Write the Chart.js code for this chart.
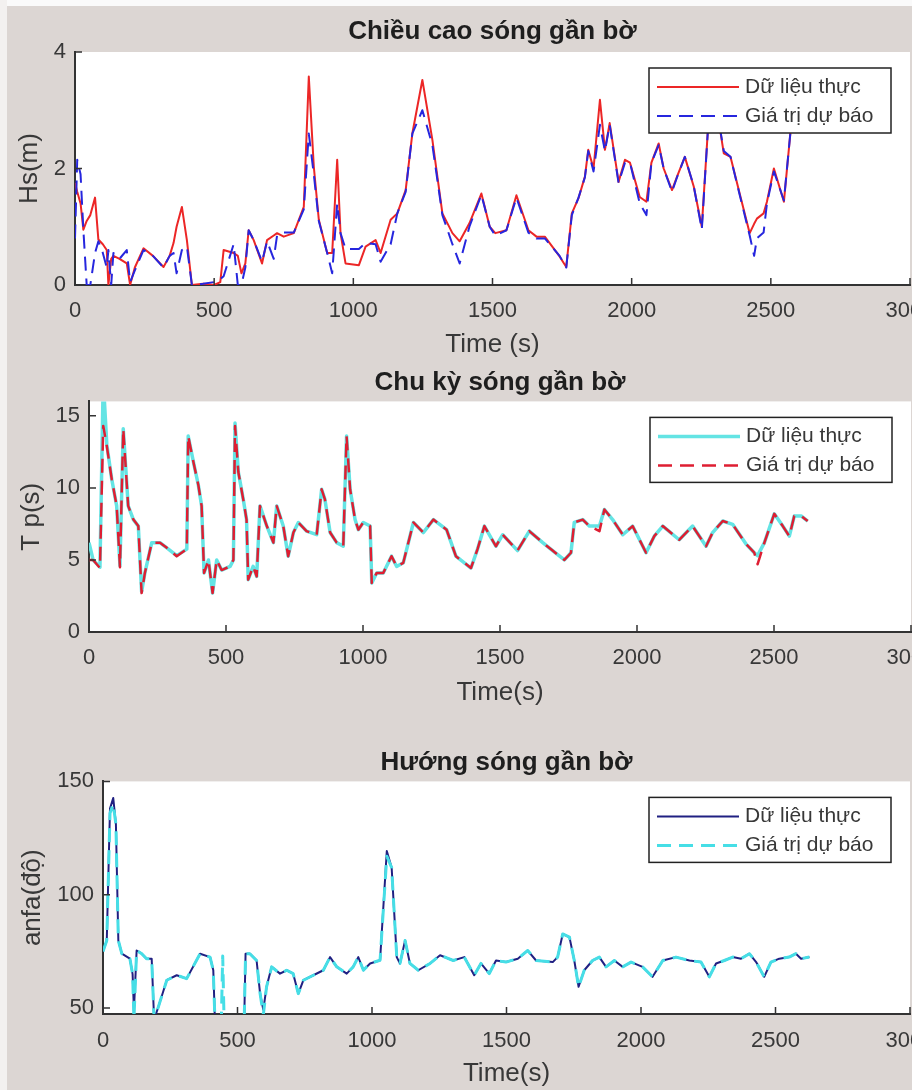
<!DOCTYPE html>
<html>
<head>
<meta charset="utf-8">
<script src="https://cdn.jsdelivr.net/npm/chart.js@4.4.0/dist/chart.umd.min.js"></script>
<style>
  html, body { margin: 0; padding: 0; background: #dcd6d3; overflow: hidden; width: 912px; height: 1090px; }
  .panel { position: absolute; left: 0; }
  .panel canvas { display: block; }
  .edge { position: absolute; background: #f3f1f0; }
</style>
</head>
<body>
<div class="panel" style="top:0"><canvas id="hsChart" width="1000" height="370"></canvas></div>
<div class="panel" style="top:365px"><canvas id="tpChart" width="1000" height="345"></canvas></div>
<div class="panel" style="top:740px"><canvas id="dirChart" width="1000" height="350"></canvas></div>
<div class="edge" style="left:0;top:0;width:912px;height:6px;background:#fafafa"></div>
<div class="edge" style="left:0;top:0;width:7px;height:1090px"></div>
<script>
// Trục thời gian chung
const timeTicks = [0, 500, 1000, 1500, 2000, 2500, 3000];

// Chiều cao sóng (Hs)
const hsTicks = [0, 2, 4];
const hsTime = [
  0, 8, 20, 30, 42, 55, 72, 84, 100, 114,
  120, 130, 138, 160, 186, 198, 215, 246, 280, 318,
  340, 354, 365, 384, 402, 420, 460, 500, 522, 534,
  570, 585, 598, 612, 624, 642, 672, 690, 714, 726,
  750, 786, 822, 840, 858, 876, 906, 924, 942, 954,
  972, 1020, 1044, 1080, 1098, 1134, 1158, 1188, 1212, 1248,
  1284, 1320, 1356, 1382, 1417, 1460, 1490, 1510, 1550, 1586,
  1629, 1658, 1688, 1741, 1765, 1785, 1809, 1832, 1844, 1863,
  1886, 1904, 1921, 1953, 1976, 1994, 2029, 2053, 2071, 2097,
  2115, 2145, 2163, 2191, 2223, 2252, 2277, 2310, 2331, 2355,
  2388, 2424, 2440, 2450, 2474, 2486, 2511, 2547, 2570, 2600,
  2620
];
const hsReal = [
  1.75, 1.6, 1.4, 0.95, 1.1, 1.2, 1.5, 0.78, 0.7, 0.6,
  0.0, 0.45, 0.5, 0.45, 0.37, 0.0, 0.3, 0.63, 0.5, 0.31,
  0.5, 0.72, 1.0, 1.34, 0.77, 0.0, 0.02, 0.0, 0.05, 0.6,
  0.55, 0.5, 0.2, 0.37, 0.94, 0.77, 0.37, 0.77, 0.85, 0.89,
  0.83, 0.89, 1.34, 3.58, 2.03, 1.12, 0.55, 0.55, 2.15, 0.89,
  0.37, 0.34, 0.66, 0.77, 0.55, 1.12, 1.23, 1.63, 2.6, 3.52,
  2.49, 1.23, 0.89, 0.75, 1.06, 1.57, 1.0, 0.89, 0.94, 1.54,
  0.94, 0.83, 0.83, 0.49, 0.31, 1.23, 1.49, 1.86, 2.32, 2.0,
  3.18, 2.32, 2.78, 1.77, 2.15, 2.1, 1.51, 1.43, 2.1, 2.43,
  2.0, 1.63, 1.86, 2.2, 1.69, 1.0, 2.9, 2.9, 2.26, 2.2,
  1.57, 0.89, 1.05, 1.14, 1.23, 1.43, 2.0, 1.43, 2.6, 3.1,
  3.0
];
const hsPred = [
  0.8, 2.15, 1.9, 0.95, 0.0, 0.0, 0.55, 0.75, 0.55, 0.3,
  0.6, 0.0, 0.55, 0.45, 0.6, 0.05, 0.25, 0.6, 0.5, 0.3,
  0.5, 0.55, 0.2, 0.6, 0.66, 0.0, 0.02, 0.05, 0.1, 0.15,
  0.7, 0.0, 0.0, 0.3, 0.94, 0.77, 0.4, 0.75, 0.45, 0.85,
  0.9, 0.9, 1.3, 2.6, 1.9, 1.1, 0.55, 0.2, 1.4, 0.89,
  0.62, 0.62, 0.72, 0.7, 0.4, 0.7, 1.23, 1.6, 2.6, 3.0,
  2.4, 1.2, 0.7, 0.37, 1.0, 1.55, 1.0, 0.85, 0.94, 1.5,
  0.9, 0.8, 0.8, 0.5, 0.3, 1.2, 1.5, 1.85, 2.3, 1.95,
  2.75, 2.3, 2.75, 1.75, 2.1, 2.1, 1.4, 1.2, 2.1, 2.4,
  2.0, 1.6, 1.85, 2.2, 1.7, 0.95, 2.9, 2.9, 2.3, 2.2,
  1.55, 0.85, 0.5, 0.8, 0.9, 1.4, 1.95, 1.45, 2.6, 3.1,
  3.0
];

// Chu kỳ sóng (Tp)
const tpTicks = [0, 5, 10, 15];
const tpTime = [
  0, 15, 40, 52, 65, 83, 101, 113, 125, 143,
  162, 180, 192, 204, 229, 259, 284, 320, 357, 362,
  381, 399, 411, 420, 436, 451, 466, 484, 515, 527,
  533, 545, 563, 575, 581, 599, 612, 624, 649, 673,
  685, 709, 727, 746, 764, 794, 831, 849, 861, 880,
  904, 928, 940, 953, 971, 983, 1001, 1026, 1032, 1050,
  1074, 1104, 1123, 1147, 1184, 1220, 1257, 1305, 1339, 1394,
  1418, 1443, 1485, 1510, 1564, 1607, 1656, 1692, 1735, 1759,
  1771, 1802, 1826, 1863, 1881, 1911, 1948, 1984, 2033, 2063,
  2094, 2154, 2203, 2252, 2276, 2313, 2349, 2398, 2428, 2440,
  2465, 2501, 2532, 2556, 2574, 2599, 2623
];
const tpReal = [
  6.2, 5.0, 4.5, 17.5, 13.0, 10.6, 8.75, 4.6, 14.1, 8.75,
  7.8, 7.35, 2.8, 4.1, 6.2, 6.2, 5.84, 5.3, 5.75, 13.6,
  11.8, 10.2, 8.75, 4.1, 5.0, 2.7, 5.0, 4.3, 4.55, 5.0,
  14.5, 11.1, 9.2, 7.8, 3.63, 4.55, 3.86, 8.75, 7.35, 6.2,
  8.75, 7.35, 5.26, 6.9, 7.6, 7.0, 6.75, 9.9, 9.2, 6.9,
  6.2, 5.95, 13.6, 9.9, 7.8, 7.1, 7.6, 7.35, 3.4, 4.1,
  4.1, 5.26, 4.55, 4.8, 7.6, 6.9, 7.8, 7.1, 5.26, 4.44,
  5.75, 7.35, 5.95, 6.75, 5.65, 7.0, 6.2, 5.65, 5.0, 5.5,
  7.6, 7.8, 7.35, 7.35, 8.5, 7.8, 6.75, 7.35, 5.5, 6.65,
  7.35, 6.4, 7.35, 5.95, 6.9, 7.7, 7.47, 6.1, 5.5, 5.3,
  6.2, 8.2, 7.35, 6.65, 8.05, 8.05, 7.7
];
const tpPred = [
  5.0, 5.0, 4.44, 14.3, 12.9, 10.6, 8.75, 4.5, 14.1, 8.75,
  7.8, 7.35, 2.7, 4.1, 6.2, 6.2, 5.84, 5.26, 5.75, 13.6,
  11.8, 10.2, 8.75, 4.1, 5.0, 2.7, 5.0, 4.3, 4.55, 5.0,
  14.3, 11.1, 9.2, 7.8, 3.63, 4.55, 3.86, 8.75, 7.35, 6.2,
  8.75, 7.35, 5.26, 6.9, 7.6, 7.0, 6.75, 9.9, 9.2, 6.9,
  6.2, 5.95, 13.6, 9.9, 7.8, 7.1, 7.6, 7.35, 3.4, 4.1,
  4.1, 5.26, 4.55, 4.8, 7.6, 6.9, 7.8, 7.1, 5.26, 4.44,
  5.75, 7.35, 5.95, 6.75, 5.65, 7.0, 6.2, 5.65, 5.0, 5.5,
  7.6, 7.8, 7.35, 7.0, 8.5, 7.8, 6.75, 7.35, 5.5, 6.65,
  7.35, 6.4, 7.35, 5.95, 6.9, 7.7, 7.47, 6.1, 5.5, 4.7,
  6.2, 8.2, 7.35, 6.65, 8.05, 8.05, 7.7
];

// Hướng sóng (anfa)
const dirTicks = [50, 100, 150];
const dirTime = [
  0, 14, 26, 38, 48, 57, 70, 100, 110, 115,
  125, 144, 162, 181, 190, 206, 237, 274, 311, 361,
  398, 410, 416, 440, 445, 450, 497, 525, 530, 546,
  571, 584, 596, 608, 627, 658, 683, 707, 726, 745,
  782, 819, 844, 869, 906, 930, 949, 968, 993, 1030,
  1055, 1073, 1092, 1104, 1123, 1141, 1172, 1216, 1253, 1302,
  1343, 1380, 1405, 1436, 1461, 1498, 1542, 1579, 1610, 1672,
  1690, 1709, 1734, 1752, 1768, 1789, 1820, 1845, 1870, 1901,
  1932, 1963, 2006, 2043, 2081, 2130, 2180, 2223, 2254, 2279,
  2310, 2341, 2372, 2403, 2428, 2458, 2483, 2514, 2551, 2576,
  2595, 2626
];
const dirReal = [
  75, 79.8, 138, 142.7, 131, 79.8, 74, 71.8, 65, 49,
  75.4, 74, 71.8, 71.8, 45, 50.6, 62.3, 64.5, 63, 74,
  72.5, 66.7, 45, 45, 45, 45, 45, 45, 74, 74,
  71, 56.4, 49.2, 59.4, 68.2, 65.2, 66.7, 65.2, 56.4, 62.3,
  64.5, 66.7, 72.5, 68.2, 65.2, 68.2, 72.5, 66.7, 69.7, 71.1,
  119.3, 112, 72.5, 69.7, 79.8, 69.7, 66.7, 69.7, 73.3, 71,
  72.5, 64.5, 69.7, 65.2, 71, 70.3, 71.8, 75.4, 71, 70.3,
  72.5, 82.7, 81.3, 71, 59.4, 66.7, 71, 72.5, 68.2, 71,
  68.2, 70.3, 68.2, 63.8, 71, 72.5, 71, 70.3, 63.8, 69.7,
  71, 72.5, 71.8, 74, 70.3, 63.8, 70.3, 71.8, 72.5, 74,
  71.8, 72.5
];
const dirPred = [
  75, 79.8, 136, 140, 131, 79.8, 74, 71.8, 65, 45,
  75.4, 74, 71.8, 71.8, 45, 50.6, 62.3, 64.5, 63, 74,
  72.5, 66.7, 45, 45, 73, 45, 45, 45, 74, 74,
  71, 56.4, 47, 59.4, 68.2, 65.2, 66.7, 65.2, 56.4, 62.3,
  64.5, 66.7, 72.5, 68.2, 65.2, 68.2, 72.5, 66.7, 69.7, 71.1,
  117, 112, 72.5, 69.7, 79.8, 69.7, 66.7, 69.7, 73.3, 71,
  72.5, 64.5, 69.7, 65.2, 71, 70.3, 71.8, 75.4, 71, 70.3,
  72.5, 82.7, 81.3, 71, 59.4, 66.7, 71, 72.5, 68.2, 71,
  68.2, 70.3, 68.2, 63.8, 71, 72.5, 71, 70.3, 63.8, 69.7,
  71, 72.5, 71.8, 74, 70.3, 63.8, 70.3, 71.8, 72.5, 74,
  71.8, 72.5
];

const realLabel = 'Dữ liệu thực';
const predLabel = 'Giá trị dự báo';

const FONT = '"Liberation Sans", Arial, Helvetica, sans-serif';
const TEXT = '#383838';
Chart.defaults.font.family = FONT;
Chart.defaults.color = TEXT;

// Nền trắng cho vùng vẽ
const plotBg = {
  id: 'plotBg',
  beforeDraw(chart) {
    const { ctx, chartArea: a } = chart;
    ctx.save();
    ctx.fillStyle = '#ffffff';
    ctx.fillRect(a.left, a.top, a.right - a.left, a.bottom - a.top);
    ctx.restore();
  }
};

// Vạch chia hướng vào trong (kiểu MATLAB)
const insideTicks = {
  id: 'insideTicks',
  afterDatasetsDraw(chart) {
    const { ctx, chartArea: a, scales: { x, y } } = chart;
    ctx.save();
    ctx.strokeStyle = '#333';
    ctx.lineWidth = 1.5;
    ctx.beginPath();
    x.ticks.forEach(t => {
      const px = x.getPixelForValue(t.value);
      ctx.moveTo(px, a.bottom);
      ctx.lineTo(px, a.bottom - 7);
    });
    y.ticks.forEach(t => {
      const py = y.getPixelForValue(t.value);
      ctx.moveTo(a.left, py);
      ctx.lineTo(a.left + 7, py);
    });
    ctx.stroke();
    ctx.restore();
  }
};

// Chú thích có khung, nằm trong vùng vẽ
const boxLegend = {
  id: 'boxLegend',
  afterDatasetsDraw(chart, args, opts) {
    const { ctx, chartArea: a } = chart;
    const left = a.right - opts.right - opts.width;
    const top = a.top + opts.top;
    ctx.save();
    ctx.fillStyle = '#fff';
    ctx.fillRect(left, top, opts.width, opts.height);
    ctx.strokeStyle = '#222';
    ctx.lineWidth = 1.5;
    ctx.strokeRect(left, top, opts.width, opts.height);
    ctx.font = '21px ' + FONT;
    ctx.textBaseline = 'middle';
    chart.data.datasets.forEach((ds, i) => {
      const cy = top + opts.rows[i];
      ctx.strokeStyle = ds.borderColor;
      ctx.lineWidth = ds.borderWidth;
      ctx.setLineDash(ds.borderDash || []);
      ctx.beginPath();
      ctx.moveTo(left + 8, cy);
      ctx.lineTo(left + 90, cy);
      ctx.stroke();
      ctx.setLineDash([]);
      ctx.fillStyle = TEXT;
      ctx.fillText(ds.label, left + 96, cy);
    });
    ctx.restore();
  }
};

function points(xs, ys) {
  return xs.map((t, i) => ({ x: t, y: ys[i] }));
}

function makeChart(id, p) {
  return new Chart(document.getElementById(id), {
    type: 'line',
    data: {
      datasets: [
        {
          label: realLabel,
          data: points(p.time, p.real),
          borderColor: p.realColor,
          borderWidth: p.realWidth,
          pointRadius: 0,
          tension: 0,
          borderJoinStyle: 'round',
          order: 1
        },
        {
          label: predLabel,
          data: points(p.time, p.pred),
          borderColor: p.predColor,
          borderWidth: p.predWidth,
          borderDash: [14, 8],
          pointRadius: 0,
          tension: 0,
          borderJoinStyle: 'round',
          order: 0
        }
      ]
    },
    options: {
      responsive: false,
      animation: false,
      events: [],
      layout: { padding: { left: 0, right: p.right, top: 0, bottom: 0 } },
      plugins: {
        legend: { display: false },
        tooltip: { enabled: false },
        title: {
          display: true,
          text: p.title,
          fullSize: false,
          color: '#1e1e1e',
          font: { size: 26, weight: 'bold', lineHeight: 1.2 },
          padding: { top: p.titleTop, bottom: p.titleBottom }
        },
        boxLegend: { right: 19, top: 16, width: 242, height: 65, rows: [19, 48] }
      },
      scales: {
        x: {
          type: 'linear',
          min: 0,
          max: 3000,
          afterBuildTicks: s => { s.ticks = timeTicks.map(v => ({ value: v })); },
          afterFit: s => { s.height = p.xHeight; },
          grid: { display: false, drawTicks: false },
          border: { display: true, color: '#333', width: 2 },
          ticks: {
            autoSkip: false, maxRotation: 0, padding: p.xPad,
            font: { size: 22 }, color: TEXT,
            callback: v => String(v)
          },
          title: {
            display: true, text: p.xTitle, color: TEXT,
            font: { size: 26, lineHeight: 1.2 },
            padding: { top: 0, bottom: p.xTitleBottom }
          }
        },
        y: {
          type: 'linear',
          min: p.yMin,
          max: p.yMax,
          afterBuildTicks: s => { s.ticks = p.yTicks.map(v => ({ value: v })); },
          afterFit: s => { s.width = p.left; },
          grid: { display: false, drawTicks: false },
          border: { display: true, color: '#333', width: 2 },
          ticks: { padding: 9, font: { size: 22 }, color: TEXT, callback: v => String(v) },
          title: {
            display: true, text: p.yTitle, color: TEXT,
            font: { size: 26, lineHeight: 1.2 },
            padding: { top: p.yTitleLeft, bottom: 0 }
          }
        }
      }
    },
    plugins: [plotBg, insideTicks, boxLegend]
  });
}

makeChart('hsChart', {
  time: hsTime, real: hsReal, pred: hsPred,
  realColor: 'rgb(236, 38, 38)', realWidth: 2,
  predColor: 'rgb(38, 38, 222)', predWidth: 2,
  title: 'Chiều cao sóng gần bờ', xTitle: 'Time (s)', yTitle: 'Hs(m)',
  yMin: 0, yMax: 4, yTicks: hsTicks,
  left: 75, right: 90, titleTop: 16, titleBottom: 4.8,
  xHeight: 85, xPad: 13, xTitleBottom: 10, yTitleLeft: 14
});

makeChart('tpChart', {
  time: tpTime, real: tpReal, pred: tpPred,
  realColor: 'rgb(100, 228, 228)', realWidth: 3.5,
  predColor: 'rgb(222, 30, 50)', predWidth: 2.5,
  title: 'Chu kỳ sóng gần bờ', xTitle: 'Time(s)', yTitle: 'T p(s)',
  yMin: 0, yMax: 16, yTicks: tpTicks,
  left: 89, right: 89, titleTop: 2, titleBottom: 3.2,
  xHeight: 78, xPad: 13, xTitleBottom: 2, yTitleLeft: 16
});

makeChart('dirChart', {
  time: dirTime, real: dirReal, pred: dirPred,
  realColor: 'rgb(32, 32, 130)', realWidth: 2,
  predColor: 'rgb(70, 222, 230)', predWidth: 3,
  title: 'Hướng sóng gần bờ', xTitle: 'Time(s)', yTitle: 'anfa(độ)',
  yMin: 47.4, yMax: 150, yTicks: dirTicks,
  left: 103, right: 90, titleTop: 7, titleBottom: 3.2,
  xHeight: 76, xPad: 14, xTitleBottom: 1, yTitleLeft: 17
});
</script>
</body>
</html>
